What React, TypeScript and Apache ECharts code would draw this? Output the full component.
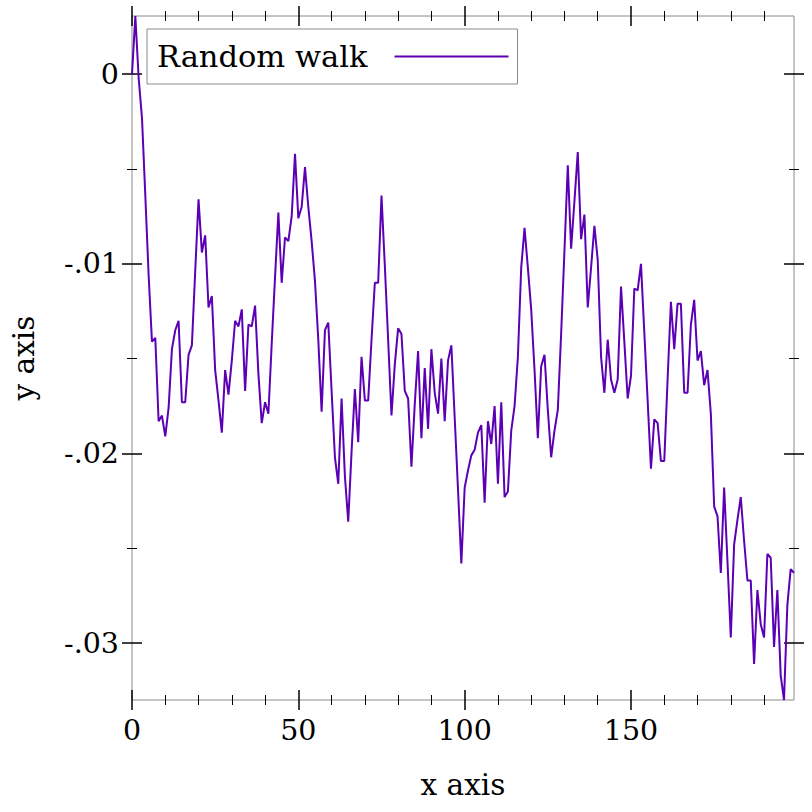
import React, { useEffect, useRef } from 'react';
import * as echarts from 'echarts';

// Random walk values, index 0..199
const walk: number[] = [
  0, 0.00307, -0.0002, -0.0023, -0.0064, -0.0106, -0.0141, -0.0139, -0.0183, -0.0180,
  -0.0191, -0.0176, -0.0145, -0.0135, -0.0130, -0.0173, -0.0173, -0.0148, -0.0143, -0.0104,
  -0.0066, -0.0094, -0.0085, -0.0123, -0.0117, -0.0156, -0.0172, -0.0189, -0.0156, -0.0169,
  -0.0151, -0.0130, -0.0133, -0.0124, -0.0167, -0.0132, -0.0133, -0.0122, -0.0158, -0.0184,
  -0.0173, -0.0179, -0.0142, -0.0107, -0.0073, -0.0110, -0.0086, -0.0088, -0.0075, -0.0042,
  -0.0076, -0.0070, -0.0049, -0.0070, -0.0088, -0.0109, -0.0140, -0.0178, -0.0135, -0.0131,
  -0.0167, -0.0202, -0.0216, -0.0171, -0.0212, -0.0236, -0.0199, -0.0166, -0.0194, -0.0149,
  -0.0172, -0.0172, -0.0140, -0.0110, -0.0110, -0.0064, -0.0101, -0.0140, -0.0180, -0.0153,
  -0.0134, -0.0137, -0.0167, -0.0171, -0.0207, -0.0174, -0.0146, -0.0192, -0.0155, -0.0187,
  -0.0145, -0.0168, -0.0179, -0.0150, -0.0183, -0.0151, -0.0143, -0.0181, -0.0219, -0.0258,
  -0.0218, -0.0209, -0.0201, -0.0198, -0.0189, -0.0185, -0.0226, -0.0183, -0.0195, -0.0175,
  -0.0216, -0.0173, -0.0223, -0.0220, -0.0188, -0.0175, -0.0149, -0.0102, -0.0081, -0.0102,
  -0.0124, -0.0156, -0.0192, -0.0154, -0.0148, -0.0177, -0.0202, -0.0188, -0.0177, -0.0137,
  -0.0093, -0.0048, -0.0092, -0.0067, -0.0041, -0.0087, -0.0074, -0.0123, -0.0102, -0.0080,
  -0.0098, -0.0149, -0.0168, -0.0140, -0.0161, -0.0168, -0.0161, -0.0112, -0.0141, -0.0171,
  -0.0159, -0.0113, -0.0114, -0.0100, -0.0136, -0.0172, -0.0208, -0.0182, -0.0184, -0.0204,
  -0.0204, -0.0161, -0.0120, -0.0145, -0.0121, -0.0121, -0.0168, -0.0168, -0.0132, -0.0119,
  -0.0151, -0.0146, -0.0164, -0.0156, -0.0179, -0.0228, -0.0233, -0.0263, -0.0218, -0.0257,
  -0.0297, -0.0248, -0.0235, -0.0223, -0.0246, -0.0267, -0.0267, -0.0311, -0.0272, -0.0290,
  -0.0297, -0.0253, -0.0255, -0.0302, -0.0272, -0.0317, -0.0330, -0.0280, -0.0261, -0.0263,
];

const seriesName = 'Random walk';
const xMajor = [0, 50, 100, 150];
const xMinor = [10, 20, 30, 40, 60, 70, 80, 90, 110, 120, 130, 140, 160, 170, 180, 190];
const yMajor = [0, -0.01, -0.02, -0.03];
const yMinor = [-0.005, -0.015, -0.025];
const X_MIN = 0;
const X_MAX = 199;
const Y_MIN = -0.033;
const Y_MAX = 0.00307;

const FONT = "'DejaVu Serif', serif";
const LINE_COLOR = '#5b00b5';
const FRAME_COLOR = '#8a8a8a';
const TICK_FONT = 28.5;
const NAME_FONT = 29.5;
const LEGEND_FONT = 30.5;

const fmtY = (v: number) => (v === 0 ? '0' : v.toFixed(2).replace('0.', '.'));

function tickAxis(dim: 'x' | 'y', position: string, values: number[], inside: boolean, length: number, width: number, extra: any = {}) {
  const isX = dim === 'x';
  return {
    type: 'value',
    position,
    min: isX ? X_MIN : Y_MIN,
    max: isX ? X_MAX : Y_MAX,
    axisLine: { show: false, onZero: false },
    splitLine: { show: false },
    minorTick: { show: false },
    axisLabel: { show: false },
    axisTick: { show: true, inside, length, customValues: values, lineStyle: { color: '#000', width } },
    ...extra,
  };
}

export default function App() {
  const ref = useRef<HTMLDivElement>(null);
  useEffect(() => {
    if (!ref.current) return;
    const chart = echarts.init(ref.current, undefined, { renderer: 'svg' });
    const data = walk.map((v, i) => [i, v]);
    const option: any = {
      animation: false,
      backgroundColor: '#fff',
      grid: {
        left: 132, right: 18, top: 16, bottom: 112,
        show: true, borderColor: FRAME_COLOR, borderWidth: 1, backgroundColor: 'transparent',
        outerBoundsMode: 'none', containLabel: false,
      },
      legend: {
        data: [{ name: seriesName, icon: 'rect' }],
        left: 147, top: 29,
        align: 'right',
        selectedMode: false,
        backgroundColor: '#fff',
        borderColor: FRAME_COLOR,
        borderWidth: 1,
        borderRadius: 0,
        padding: [12, 9, 12, 10],
        itemWidth: 114,
        itemHeight: 2,
        textStyle: { fontFamily: FONT, fontSize: LEGEND_FONT, color: '#000', padding: [0, 22, 0, 0] },
      },
      xAxis: [
        tickAxis('x', 'bottom', xMajor, false, 10, 1.5, {
          axisLabel: { show: true, customValues: xMajor, fontFamily: FONT, fontSize: TICK_FONT, color: '#000', margin: 16 },
          name: 'x axis', nameLocation: 'middle', nameGap: 70,
          nameTextStyle: { fontFamily: FONT, fontSize: NAME_FONT, color: '#000' },
        }),
        tickAxis('x', 'bottom', xMajor, true, 10, 1.5),
        tickAxis('x', 'bottom', xMinor, false, 5, 1),
        tickAxis('x', 'bottom', xMinor, true, 5, 1),
        tickAxis('x', 'top', xMajor, false, 10, 1.5),
        tickAxis('x', 'top', xMajor, true, 10, 1.5),
        tickAxis('x', 'top', xMinor, false, 5, 1),
        tickAxis('x', 'top', xMinor, true, 5, 1),
      ],
      yAxis: [
        tickAxis('y', 'left', yMajor, false, 10, 1.5, {
          axisLabel: { show: true, customValues: yMajor, formatter: fmtY, fontFamily: FONT, fontSize: TICK_FONT, color: '#000', margin: 13 },
          name: 'y axis', nameLocation: 'middle', nameGap: 93,
          nameTextStyle: { fontFamily: FONT, fontSize: NAME_FONT, color: '#000' },
        }),
        tickAxis('y', 'left', yMajor, true, 10, 1.5),
        tickAxis('y', 'left', yMinor, false, 5, 1),
        tickAxis('y', 'left', yMinor, true, 5, 1),
        tickAxis('y', 'right', yMajor, false, 10, 1.5),
        tickAxis('y', 'right', yMajor, true, 10, 1.5),
        tickAxis('y', 'right', yMinor, false, 5, 1),
        tickAxis('y', 'right', yMinor, true, 5, 1),
      ],
      series: [
        {
          name: seriesName,
          type: 'line',
          xAxisIndex: 0,
          yAxisIndex: 0,
          data,
          symbol: 'none',
          showSymbol: false,
          lineStyle: { color: LINE_COLOR, width: 2 },
          itemStyle: { color: LINE_COLOR },
        },
      ],
    };
    chart.setOption(option);
    return () => chart.dispose();
  }, []);
  return <div ref={ref} style={{ position: 'absolute', left: 0, top: 0, width: 812, height: 812 }} />;
}
